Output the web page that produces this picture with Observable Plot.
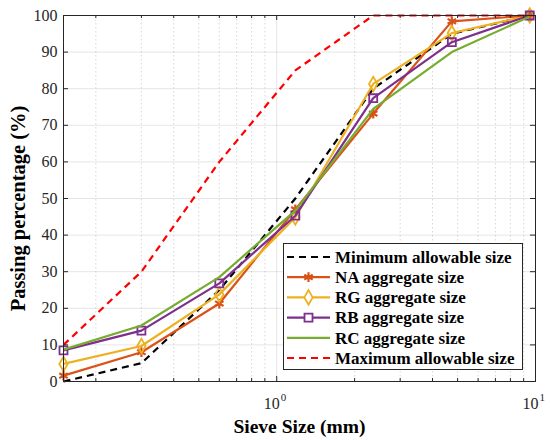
<!DOCTYPE html>
<html><head><meta charset="utf-8">
<script src="https://cdn.jsdelivr.net/npm/d3@7"></script>
<script src="https://cdn.jsdelivr.net/npm/@observablehq/plot@0.6"></script>
<style>
body{margin:0;background:#fff;}
#wrap{position:relative;width:550px;height:440px;}
#legend{position:absolute;left:283px;top:243px;}
</style>
</head><body>
<div id="wrap"></div>
<script>
const sieve = [0.15, 0.3, 0.6, 1.18, 2.36, 4.75, 9.5];
const minAllow = [0, 5, 25, 50, 80, 95, 100];
const naAgg = [1.6, 8, 21.3, 47, 73.2, 98.4, 100];
const rgAgg = [4.8, 9.7, 23.8, 44.8, 81.3, 95.2, 100];
const rbAgg = [8.5, 13.9, 26.8, 45.3, 77.4, 92.7, 100];
const rcAgg = [8.7, 15.3, 28.5, 46.7, 74.5, 90, 99.7];
const maxAllow = [10, 30, 60, 85, 100, 100, 100];

const seriesNames = ["Minimum allowable size","NA aggregate size","RG aggregate size","RB aggregate size","RC aggregate size","Maximum allowable size"];
const seriesValues = [minAllow, naAgg, rgAgg, rbAgg, rcAgg, maxAllow];
const seriesColors = ["#000000","#D95319","#EDB120","#7E2F8E","#77AC30","#FF0000"];
const seriesDash = ["7,5", null, null, null, null, "7,5"];
const seriesSymbol = [null, "asterisk", "diamond", "square", null, null];

const yTicks = d3.range(0, 101, 10);
const xMajor = [1, 10];
const xMinor = [0.2,0.3,0.4,0.5,0.6,0.7,0.8,0.9,2,3,4,5,6,7,8,9];

const W = 550, H = 440, mL = 63, mR = 15, mT = 15, mB = 59;
const pw = W - mL - mR, ph = H - mT - mB;
const font = "Liberation Serif";
const axisColor = "#262626";
const symR = {asterisk: 4.6, diamond: 4.4, square: 4.5};

const marks = [
  Plot.gridY(yTicks, {stroke: "#000", strokeOpacity: 0.13, strokeWidth: 0.8}),
  Plot.ruleX(xMinor, {x: d => d, stroke: "#000", strokeOpacity: 0.2, strokeWidth: 0.8, strokeDasharray: "1.5,2.5"}),
  Plot.ruleX([1], {x: d => d, stroke: "#000", strokeOpacity: 0.13, strokeWidth: 0.8}),
];

seriesValues.forEach((vals, i) => {
  const data = sieve.map((s, j) => ({s, v: vals[j]}));
  marks.push(Plot.line(data, {x: "s", y: "v", stroke: seriesColors[i], strokeWidth: 2.2,
    strokeDasharray: seriesDash[i] || undefined, strokeLinecap: "butt"}));
  if (seriesSymbol[i]) {
    marks.push(Plot.dot(data, {x: "s", y: "v", symbol: () => seriesSymbol[i], r: symR[seriesSymbol[i]],
      stroke: seriesColors[i], fill: "none", strokeWidth: seriesSymbol[i] === "asterisk" ? 2.2 : 1.8}));
  }
});

marks.push(
  Plot.frame({stroke: axisColor, strokeWidth: 1}),
  Plot.tickY(yTicks, {y: d => d, insetRight: pw - 5, stroke: axisColor}),
  Plot.tickY(yTicks, {y: d => d, insetLeft: pw - 5, stroke: axisColor}),
  Plot.tickX(xMajor, {x: d => d, insetTop: ph - 5, stroke: axisColor}),
  Plot.tickX(xMajor, {x: d => d, insetBottom: ph - 5, stroke: axisColor}),
  Plot.tickX(xMinor, {x: d => d, insetTop: ph - 3, stroke: axisColor}),
  Plot.tickX(xMinor, {x: d => d, insetBottom: ph - 3, stroke: axisColor}),
  Plot.axisY({ticks: yTicks, tickSize: 0, tickPadding: 6, fontSize: 16, fontFamily: font, label: null, color: axisColor}),
  Plot.text(xMajor, {x: d => d, y: 0, text: () => "10", textAnchor: "end", lineAnchor: "bottom", dx: 3, dy: 27, fontSize: 16, fontFamily: font, fill: axisColor}),
  Plot.text(xMajor, {x: d => d, y: 0, text: d => String(Math.round(Math.log10(d))), textAnchor: "start", lineAnchor: "bottom", dx: 4, dy: 19, fontSize: 11, fontFamily: font, fill: axisColor}),
  Plot.text(["Sieve Size (mm)"], {frameAnchor: "bottom", textAnchor: "middle", text: d => d, lineAnchor: "bottom", dy: 51, fontSize: 19.5, fontWeight: "bold", fontFamily: font, fill: "#000"}),
  Plot.text(["Passing percentage (%)"], {frameAnchor: "left", textAnchor: "middle", text: d => d, rotate: -90, lineAnchor: "middle", dx: -45, dy: 10, fontSize: 20.5, fontWeight: "bold", fontFamily: font, fill: "#000"})
);

const chart = Plot.plot({
  width: W, height: H, marginLeft: mL, marginRight: mR, marginTop: mT, marginBottom: mB,
  x: {type: "log", domain: [0.15, 10], axis: null},
  y: {domain: [0, 100]},
  style: {fontFamily: font, background: "#fff"},
  marks
});
document.getElementById("wrap").appendChild(chart);

// Legend
const lw = 240, lh = 127, rowStart = 14, rowStep = 20.2;
const leg = d3.create("svg").attr("id", "legend").attr("width", lw).attr("height", lh);
leg.append("rect").attr("x", 0.5).attr("y", 0.5).attr("width", lw - 1).attr("height", lh - 1)
  .attr("fill", "#fff").attr("stroke", axisColor).attr("stroke-width", 1);
const symMap = {asterisk: d3.symbolAsterisk, diamond: d3.symbolDiamond, square: d3.symbolSquare};
seriesNames.forEach((name, i) => {
  const y = rowStart + i * rowStep;
  leg.append("line").attr("x1", 4).attr("x2", 47).attr("y1", y).attr("y2", y)
    .attr("stroke", seriesColors[i]).attr("stroke-width", 2.2)
    .attr("stroke-dasharray", seriesDash[i] || null);
  if (seriesSymbol[i]) {
    const r = symR[seriesSymbol[i]];
    leg.append("path").attr("d", d3.symbol(symMap[seriesSymbol[i]], Math.PI * r * r)())
      .attr("transform", `translate(25.5,${y})`).attr("fill", "#fff")
      .attr("stroke", seriesColors[i]).attr("stroke-width", seriesSymbol[i] === "asterisk" ? 2.2 : 1.8);
  }
  leg.append("text").attr("x", 52).attr("y", y).attr("dy", "0.34em")
    .attr("font-family", font).attr("font-weight", "bold").attr("font-size", 17)
    .attr("fill", "#000").text(name);
});
document.getElementById("wrap").appendChild(leg.node());
</script>
</body></html>
